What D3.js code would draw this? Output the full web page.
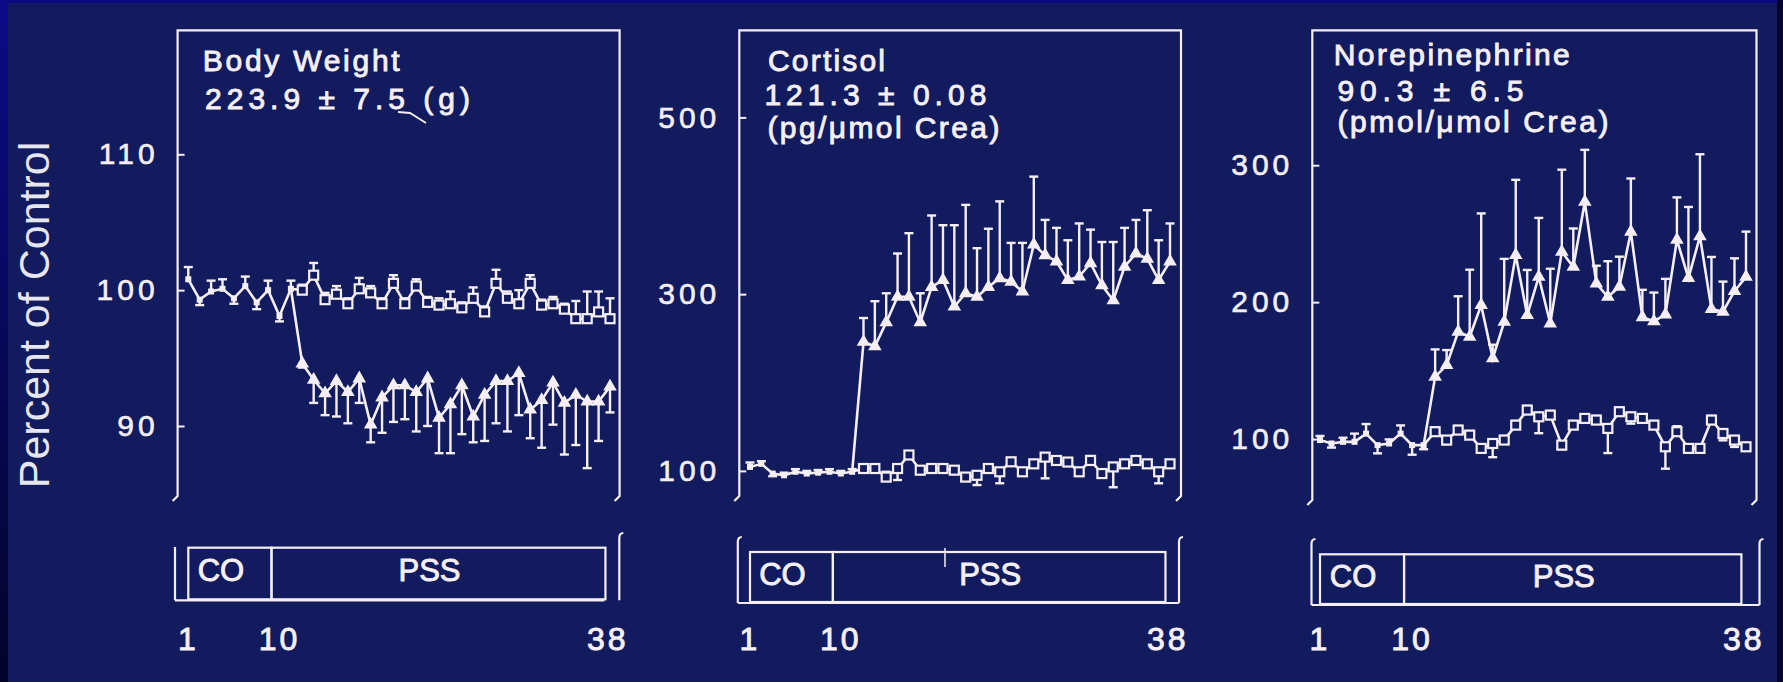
<!DOCTYPE html>
<html>
<head>
<meta charset="utf-8">
<script src="https://cdnjs.cloudflare.com/ajax/libs/d3/7.8.5/d3.min.js"></script>
<style>
  html, body { margin: 0; padding: 0; background: #0a0a80; }
  svg { display: block; }
  text { font-family: "Liberation Sans", Arial, Helvetica, sans-serif; fill: #f7f1f5; }
</style>
</head>
<body>
<div id="chart"></div>
<script>
// sampling days (x categories)
var days = [1,2,3,4,5,6,7,8,9,10,11,12,13,14,15,16,17,18,19,20,
            21,22,23,24,25,26,27,28,29,30,31,32,33,34,35,36,37,38];
var xTickLabels = [1, 10, 38];
var phases = [{label: "CO", from: 1, to: 8.3}, {label: "PSS", from: 8.3, to: 37.6}];

// Body weight (% of control)
var bwTicks = [90, 100, 110];
var bwControl = [100.8,99.3,99.9,100.1,99.4,100.3,99.1,100.0,98.1,100.1,
                 100.0,101.1,99.3,99.7,99.0,100.1,99.8,99.0,100.5,99.0,
                 100.3,99.1,98.9,99.0,98.7,99.4,98.4,100.5,99.4,99.0,
                 100.5,98.9,99.0,98.6,97.9,97.9,98.4,97.9];
var bwControlErr = [0.9,-0.4,0.8,0.7,-0.4,0.7,-0.5,0.7,-0.4,0.6,
                    0.4,0.9,0.5,0.6,0.4,0.8,0.5,0.4,0.6,0.4,
                    0.5,0.4,0.5,0.9,0.4,0.8,0.4,1.0,0.5,1.0,
                    0.6,0.4,0.5,0.4,1.3,2.0,1.5,1.5];
var bwPss = [null,null,null,null,null,null,null,null,null,100.1,
             94.6,93.4,92.4,93.3,92.5,93.5,90.1,92.1,93.0,93.0,
             92.5,93.5,90.6,91.6,93.0,90.7,92.3,93.3,93.3,93.9,
             91.2,91.9,93.2,91.7,92.3,91.8,91.8,92.9];
var bwPssErr = [0,0,0,0,0,0,0,0,0,0,
                -0.3,-1.7,-1.6,-2.6,-2.3,-1.8,-1.3,-2.6,-2.7,-2.5,
                -2.9,-3.5,-2.6,-3.6,-3.6,-1.9,-3.4,-3.1,-3.7,-3.1,
                -2.1,-3.5,-3.1,-3.8,-3.7,-4.9,-2.9,-1.9];

// Cortisol (% of control)
var crTicks = [100, 300, 500];
var crControl = [104.5,108,97,95,99,97,98,99,97,99,
                 102.7,102.7,93,102.7,118,100.8,102.7,102.7,100.8,93,
                 95,102.7,99,110.3,99,108,115.6,111.8,110,99,
                 111.8,97,104.5,108,111.8,108,99,108];
var crControlErr = [5,3,-3,3,3,3,3,3,3,3,
                    3,-3,6,-13,4,3,3,3,-3,4,
                    -11,3,-13,4,3,4,-24,3,3,4,
                    5,4,-23,3,3,3,-13,3];
var crPss = [null,null,null,null,null,null,null,null,null,99,
             246,241,268,297,297,268,308,316,286,301,
             297,308,318,314,303,356,344,337,316,320,
             335,310,293,331,346,340,316,337];
var crPssErr = [0,0,0,0,0,0,0,0,0,0,
                27,51,33,49,72,33,81,62,92,100,
                55,66,87,44,55,77,40,38,45,60,
                38,49,66,44,38,55,45,43];

// Norepinephrine (% of control)
var neTicks = [100, 200, 300];
var neControl = [99.3,96.8,98,98,104,95.6,96.8,104,95.6,95.6,
                 105.4,99.3,106.6,102.9,93.2,96.8,99.3,110.2,121.2,116.3,
                 117.5,95.6,110.2,115.1,113.9,107.8,120,116.3,115.1,110.2,
                 94.4,105.4,93.2,93.2,113.9,104.1,99.3,94.4];
var neControlErr = [3,-3,3,6,7,-6,3,6,-7,-3,
                    3,-3,3,3,-3,-10,3,3,3,-12,
                    3,-3,3,3,3,-18,3,-5,3,3,
                    -16,4,-3,3,3,-5,-5,-3];
var nePss = [null,null,null,null,null,null,null,null,null,95.6,
             145.5,154,178.3,174.7,197.8,158.9,185.6,234.3,190.5,218.5,
             184.4,236.7,225.8,273.2,213.6,203.9,211.2,251.3,189,186,
             191,245.5,217.5,248,195,193,208,218.5];
var nePssErr = [0,0,0,0,0,0,0,0,0,0,
                20,11,26,49,67,10,46,55,33,43,
                40,60,28,38,13,26,22,39,20,21,
                26,31,52,60,38,22,24,33];

var ink = "#f5eff3";
var bg = "#111b5d";
var W = 1783, H = 682;

var svg = d3.select("#chart")
  .append("svg")
    .attr("width", W)
    .attr("height", H);

var defs = svg.append("defs");
var grad = defs.append("linearGradient")
    .attr("id", "edge").attr("x1", 0).attr("y1", 0).attr("x2", 0).attr("y2", 1);
grad.append("stop").attr("offset", "0%").attr("stop-color", "#0b0b88");
grad.append("stop").attr("offset", "100%").attr("stop-color", "#03032a");

svg.append("rect").attr("width", W).attr("height", H).attr("fill", "#0a0a82");
svg.append("rect").attr("width", 8).attr("height", H).attr("fill", "url(#edge)");
svg.append("rect").attr("x", 8).attr("y", 3).attr("width", 1769).attr("height", H - 3).attr("fill", bg);
svg.append("rect").attr("x", 1777).attr("y", 0).attr("width", 6).attr("height", H).attr("fill", "#04042c");

// y label
svg.append("text")
  .attr("transform", "translate(49,315) rotate(-90)")
  .attr("text-anchor", "middle")
  .style("font-size", "43px")
  .style("fill", "#e6e6ee")
  .text("Percent of Control");

var panels = [
  {left: 177.6, right: 619.6, top: 30.4, bottom: 496, x0: 188.3, x1: 610,
   ticks: bwTicks, yRange: [426, 154.3], control: bwControl, controlErr: bwControlErr,
   pss: bwPss, pssErr: bwPssErr,
   barTop: 547.7, barBottom: 599.3, brL: 175, brLTop: 547, brLCurl: false, brR: 619.3, brRTop: 533, baseEnd: 604.3,
   titles: [{t: "Body Weight", x: 202.7, y: 71, w: 197},
            {t: "223.9 \u00b1 7.5 (g)", x: 205, y: 109, w: 265}]},
  {left: 739.3, right: 1181, top: 30.4, bottom: 496, x0: 750, x1: 1170,
   ticks: crTicks, yRange: [470.9, 117.4], control: crControl, controlErr: crControlErr,
   pss: crPss, pssErr: crPssErr,
   barTop: 552, barBottom: 602, brL: 737.8, brLTop: 537, brLCurl: true, brR: 1179, brRTop: 537, baseEnd: 1179,
   titles: [{t: "Cortisol", x: 768, y: 71, w: 117},
            {t: "121.3 \u00b1 0.08", x: 764.4, y: 105, w: 222},
            {t: "(pg/\u03bcmol Crea)", x: 767.4, y: 138, w: 232}]},
  {left: 1312.3, right: 1756.5, top: 30.4, bottom: 500, x0: 1320, x1: 1746,
   ticks: neTicks, yRange: [439.1, 165.2], control: neControl, controlErr: neControlErr,
   pss: nePss, pssErr: nePssErr,
   barTop: 554.3, barBottom: 604, brL: 1311.5, brLTop: 539, brLCurl: true, brR: 1759.5, brRTop: 539, baseEnd: 1759.5,
   titles: [{t: "Norepinephrine", x: 1333.8, y: 65, w: 236},
            {t: "90.3 \u00b1 6.5", x: 1337.5, y: 101, w: 186},
            {t: "(pmol/\u03bcmol Crea)", x: 1337.5, y: 132, w: 271}]}
];

panels.forEach(drawPanel);

function drawPanel(p) {
  var x = d3.scaleLinear().domain([1, 38]).range([p.x0, p.x1]);
  var y = d3.scaleLinear().domain([p.ticks[0], p.ticks[2]]).range(p.yRange);
  var g = svg.append("g");

  // frame, open at the bottom with small hooks
  g.append("path")
    .attr("d", "M" + (p.left - 5) + "," + (p.bottom + 5) + "L" + p.left + "," + p.bottom +
               "L" + p.left + "," + p.top + "L" + p.right + "," + p.top +
               "L" + p.right + "," + p.bottom + "L" + (p.right - 5) + "," + (p.bottom + 5))
    .attr("fill", "none").attr("stroke", ink).attr("stroke-width", 2.2);

  var ax = g.append("g")
    .attr("transform", "translate(" + p.left + ",0)")
    .call(d3.axisLeft(y).tickValues(p.ticks).tickSize(-7).tickPadding(19).tickFormat(d3.format("d")));
  ax.select(".domain").remove();
  ax.selectAll("line").attr("stroke", ink).attr("stroke-width", 2);
  ax.selectAll("text")
    .style("fill", ink)
    .style("font-size", "30px")
    .style("font-family", "'Liberation Sans', Arial, sans-serif")
    .style("letter-spacing", "4px")
    .style("stroke", ink).style("stroke-width", 0.6);

  // titles
  g.selectAll(".title")
    .data(p.titles)
    .join("text")
      .attr("class", "title")
      .attr("x", d => d.x)
      .attr("y", d => d.y)
      .attr("textLength", d => d.w)
      .attr("lengthAdjust", "spacing")
      .style("font-size", "30px")
      .style("stroke", ink).style("stroke-width", 0.9)
      .text(d => d.t);

  var ctrl = days.map((d, i) => ({day: d, v: p.control[i], e: p.controlErr[i]}));
  var pss = days.map((d, i) => ({day: d, v: p.pss[i], e: p.pssErr[i]})).filter(d => d.v != null);

  var line = d3.line().x(d => x(d.day)).y(d => y(d.v));

  g.append("path").datum(ctrl).attr("d", line)
    .attr("fill", "none").attr("stroke", ink).attr("stroke-width", 2.6);
  g.append("path").datum(pss).attr("d", line)
    .attr("fill", "none").attr("stroke", ink).attr("stroke-width", 2.6);

  // error bars
  var errPts = ctrl.concat(pss.filter(d => d.day > 10)).filter(d => d.e !== 0);
  var eb = g.selectAll(".err").data(errPts).join("g").attr("class", "err");
  eb.append("line")
    .attr("x1", d => x(d.day)).attr("x2", d => x(d.day))
    .attr("y1", d => y(d.v)).attr("y2", d => y(d.v + d.e))
    .attr("stroke", ink).attr("stroke-width", 2.4);
  eb.append("line")
    .attr("x1", d => x(d.day) - 4.5).attr("x2", d => x(d.day) + 4.5)
    .attr("y1", d => y(d.v + d.e)).attr("y2", d => y(d.v + d.e))
    .attr("stroke", ink).attr("stroke-width", 2.4);

  // markers: control period dots, control squares, PSS triangles
  g.selectAll(".pre").data(ctrl.filter(d => d.day <= 10)).join("rect")
    .attr("x", d => x(d.day) - 3).attr("y", d => y(d.v) - 3)
    .attr("width", 6).attr("height", 6).attr("fill", ink);
  g.selectAll(".sq").data(ctrl.filter(d => d.day > 10)).join("rect")
    .attr("x", d => x(d.day) - 4.5).attr("y", d => y(d.v) - 4.5)
    .attr("width", 9).attr("height", 9)
    .attr("fill", bg).attr("stroke", ink).attr("stroke-width", 2.2);
  g.selectAll(".tri").data(pss.filter(d => d.day > 10)).join("path")
    .attr("transform", d => "translate(" + x(d.day) + "," + y(d.v) + ")")
    .attr("d", d3.symbol().type(d3.symbolTriangle).size(80))
    .attr("fill", ink);

  // time bar
  var bar = g.append("g");
  bar.selectAll("rect").data(phases).join("rect")
    .attr("x", d => x(d.from)).attr("y", p.barTop)
    .attr("width", d => x(d.to) - x(d.from)).attr("height", p.barBottom - p.barTop)
    .attr("fill", "none").attr("stroke", ink).attr("stroke-width", 2.2);
  bar.selectAll("text").data(phases).join("text")
    .attr("x", d => (x(d.from) + x(d.to)) / 2 - 9)
    .attr("y", p.barTop + 33)
    .attr("text-anchor", "middle")
    .style("font-size", "31px")
    .style("stroke", ink).style("stroke-width", 0.9)
    .text(d => d.label);
  var brBottom = p.barBottom + 1;
  bar.append("path")
    .attr("d", "M" + p.brL + "," + brBottom + "L" + p.brL + "," + (p.brLTop + (p.brLCurl ? 5 : 0)) +
               (p.brLCurl ? "Q" + p.brL + "," + p.brLTop + " " + (p.brL + 4) + "," + p.brLTop : "") +
               "M" + p.brL + "," + brBottom + "L" + p.baseEnd + "," + brBottom +
               "M" + p.brR + "," + brBottom + "L" + p.brR + "," + (p.brRTop + 5) +
               "Q" + p.brR + "," + p.brRTop + " " + (p.brR + 4) + "," + p.brRTop)
    .attr("fill", "none").attr("stroke", ink).attr("stroke-width", 2.2);

  // day labels under the bar
  var bx = d3.scaleLinear().domain(xTickLabels).range([x(1), x(9), x(37.8)]);
  bar.selectAll(".xl").data(xTickLabels).join("text")
    .attr("class", "xl")
    .attr("x", d => bx(d))
    .attr("y", 650)
    .attr("text-anchor", "middle")
    .style("font-size", "32px")
    .style("letter-spacing", "3px")
    .style("stroke", ink).style("stroke-width", 0.9)
    .text(d => d);
}

// small stray pen strokes from the original figure
svg.append("path").attr("d", "M398,112L410,113L426,123")
  .attr("fill", "none").attr("stroke", ink).attr("stroke-width", 1.8);
svg.append("line").attr("x1", 945).attr("x2", 945).attr("y1", 548).attr("y2", 567)
  .attr("stroke", ink).attr("stroke-width", 1.5);
</script>
</body>
</html>
